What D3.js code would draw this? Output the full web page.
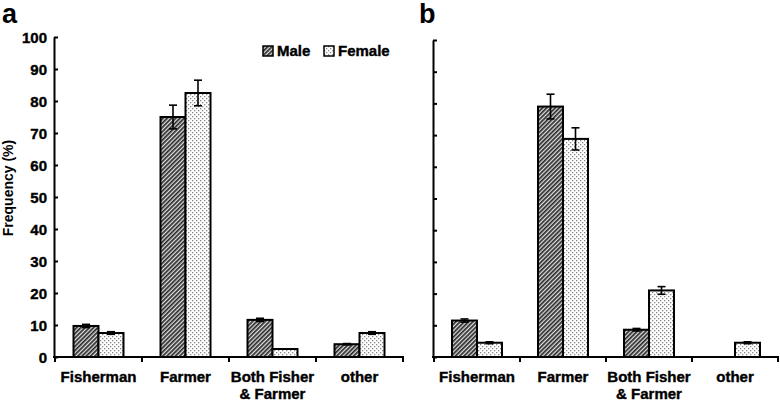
<!DOCTYPE html>
<meta charset="utf-8">
<script src="https://d3js.org/d3.v7.min.js"></script>
<style>
  body { margin: 0; background: #fff; }
  text { font-family: "Liberation Sans", Arial, sans-serif; font-weight: bold; }
</style>
<div id="chart"></div>
<script>
// data
const categories = ["Fisherman", "Farmer", "Both Fisher|& Farmer", "other"]
const sexes = ["Male", "Female"]
const yTicks = [0, 10, 20, 30, 40, 50, 60, 70, 80, 90, 100]

const maleA = [9.7, 75, 11.6, 4]
const maleAErr = [0.5, 3.7, 0.5, 0.2]
const femaleA = [7.5, 82.5, 2.5, 7.5]
const femaleAErr = [0.4, 4, 0, 0.4]

const maleB = [11.5, 79, 8.6, 0]
const maleBErr = [0.5, 3.9, 0.4, 0]
const femaleB = [4.5, 68.8, 21, 4.5]
const femaleBErr = [0.3, 3.5, 1.2, 0.3]

const svg = d3.select("#chart")
    .append("svg")
    .attr("width", 780)
    .attr("height", 402)

// fill patterns: hatched for male, dotted for female
const defs = svg.append("defs")
const hatch = defs.append("pattern")
    .attr("id", "hatch")
    .attr("patternUnits", "userSpaceOnUse")
    .attr("width", 3).attr("height", 3)
    .attr("patternTransform", "rotate(45)")
hatch.append("rect").attr("width", 3).attr("height", 3).attr("fill", "#e0e0e0")
hatch.append("rect").attr("width", 1.7).attr("height", 3).attr("fill", "#2a2a2a")

const dots = defs.append("pattern")
    .attr("id", "dots")
    .attr("patternUnits", "userSpaceOnUse")
    .attr("width", 4).attr("height", 4)
dots.append("rect").attr("width", 4).attr("height", 4).attr("fill", "#fff")
dots.append("rect").attr("x", 0).attr("y", 0).attr("width", 1.3).attr("height", 1.3).attr("fill", "#888")
dots.append("rect").attr("x", 2).attr("y", 2).attr("width", 1.3).attr("height", 1.3).attr("fill", "#888")

const fills = {Male: "url(#hatch)", Female: "url(#dots)"}

function drawPanel(opts) {
    const g = svg.append("g")
    const x = d3.scaleBand()
        .domain(categories)
        .range([opts.x0, opts.x1])
    const y = d3.scaleLinear()
        .domain([0, 100])
        .range([357, opts.yTop])

    const rows = []
    categories.forEach((c, i) => {
        rows.push({cat: c, sex: "Male", v: opts.male[i], e: opts.maleErr[i]})
        rows.push({cat: c, sex: "Female", v: opts.female[i], e: opts.femaleErr[i]})
    })

    const sub = d3.scaleBand().domain(sexes).range([-25, 25])

    // bars
    g.append("g")
        .selectAll("rect")
        .data(rows.filter(d => d.v > 0))
        .join("rect")
            .attr("x", d => x(d.cat) + x.bandwidth() / 2 + sub(d.sex))
            .attr("y", d => y(d.v))
            .attr("width", sub.bandwidth())
            .attr("height", d => y(0) - y(d.v))
            .attr("fill", d => fills[d.sex])
            .attr("stroke", "#000")
            .attr("stroke-width", 2)

    // error bars
    const eb = g.append("g")
        .selectAll("g")
        .data(rows.filter(d => d.v > 0 && d.e > 0))
        .join("g")
            .attr("transform", d => `translate(${x(d.cat) + x.bandwidth() / 2 + sub(d.sex) + sub.bandwidth() / 2},0)`)
    eb.append("line")
        .attr("y1", d => y(d.v - d.e)).attr("y2", d => y(d.v + d.e))
        .attr("stroke", "#000").attr("stroke-width", 1.6)
    eb.append("line")
        .attr("x1", -4).attr("x2", 4)
        .attr("y1", d => y(d.v + d.e)).attr("y2", d => y(d.v + d.e))
        .attr("stroke", "#000").attr("stroke-width", 1.6)
    eb.append("line")
        .attr("x1", -4).attr("x2", 4)
        .attr("y1", d => y(d.v - d.e)).attr("y2", d => y(d.v - d.e))
        .attr("stroke", "#000").attr("stroke-width", 1.6)

    // y axis, ticks pointing inward
    const yAxis = g.append("g")
        .attr("transform", `translate(${opts.x0 - 1},0)`)
        .call(d3.axisRight(y).tickValues(yTicks).tickSize(4).tickSizeOuter(0).tickFormat(""))
    yAxis.select(".domain").attr("stroke-width", 2)
    yAxis.selectAll(".tick line").attr("stroke-width", 2)
    if (opts.labels) {
        yAxis.selectAll(".tick")
            .append("text")
            .attr("x", -7)
            .attr("dy", "0.35em")
            .attr("text-anchor", "end")
            .attr("fill", "#000")
            .attr("stroke", "#000").attr("stroke-width", 0.4)
            .style("font-size", "15px")
            .text(d => d)
    }

    // x axis with ticks at category boundaries
    const bounds = categories.map(c => x(c)).concat([opts.x1])
    g.append("line")
        .attr("x1", opts.x0 - 2).attr("x2", opts.x1 + 1)
        .attr("y1", y(0)).attr("y2", y(0))
        .attr("stroke", "#000").attr("stroke-width", 2)
    g.append("g")
        .selectAll("line")
        .data(bounds)
        .join("line")
            .attr("x1", d => d).attr("x2", d => d)
            .attr("y1", y(0)).attr("y2", y(0) + 5)
            .attr("stroke", "#000").attr("stroke-width", 2)

    const lab = g.append("g")
        .selectAll("text")
        .data(categories)
        .join("text")
            .attr("x", d => x(d) + x.bandwidth() / 2)
            .attr("y", 382)
            .attr("text-anchor", "middle")
            .attr("stroke", "#000").attr("stroke-width", 0.4)
            .style("font-size", "15px")
    lab.selectAll("tspan")
        .data(d => d.split("|"))
        .join("tspan")
            .attr("x", function() { return d3.select(this.parentNode).attr("x") })
            .attr("dy", (d, i) => i === 0 ? 0 : 17)
            .text(d => d)

    // panel letter
    g.append("text")
        .attr("x", opts.letterX)
        .attr("y", 23)
        .style("font-size", "27px")
        .text(opts.letter)
}

drawPanel({x0: 55, x1: 403, yTop: 37, labels: true, letter: "a", letterX: 2,
    male: maleA, maleErr: maleAErr, female: femaleA, femaleErr: femaleAErr})
drawPanel({x0: 434, x1: 778, yTop: 40, labels: false, letter: "b", letterX: 419,
    male: maleB, maleErr: maleBErr, female: femaleB, femaleErr: femaleBErr})

// y title
svg.append("text")
    .attr("transform", "translate(13,188) rotate(-90)")
    .attr("text-anchor", "middle")
    .style("font-size", "14px")
    .text("Frequency (%)")

// legend
const legend = svg.append("g")
    .selectAll("g")
    .data(sexes)
    .join("g")
        .attr("transform", (d, i) => `translate(${263 + i * 61},46)`)
legend.append("rect")
    .attr("width", 10).attr("height", 10)
    .attr("fill", d => fills[d])
    .attr("stroke", "#000").attr("stroke-width", 1.5)
legend.append("text")
    .attr("x", 14).attr("y", 10)
    .attr("stroke", "#000").attr("stroke-width", 0.4)
    .style("font-size", "15px")
    .text(d => d)
</script>
